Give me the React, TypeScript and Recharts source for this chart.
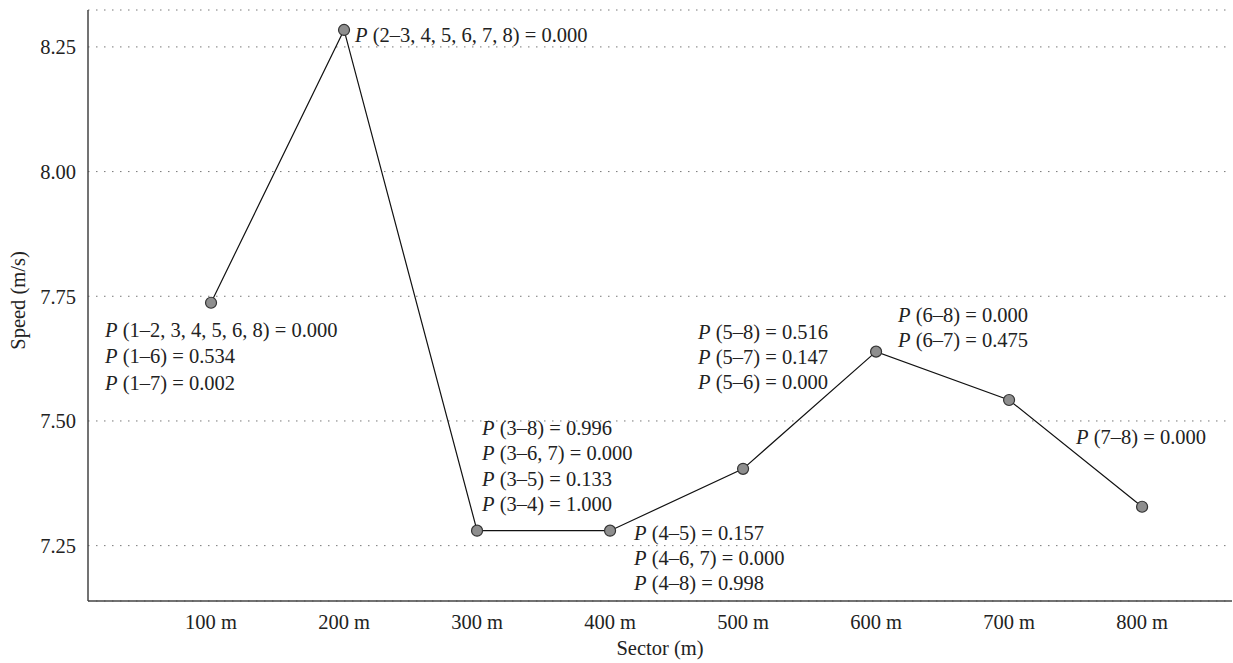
import { CartesianGrid, LabelList, Line, LineChart, XAxis, YAxis } from "recharts";

const sectors = [100, 200, 300, 400, 500, 600, 700, 800];
const speeds = [7.737, 8.284, 7.280, 7.280, 7.404, 7.639, 7.542, 7.328];
const speedTicks = [7.25, 7.5, 7.75, 8.0, 8.25];

const pValues: string[][] = [
  ["(1–2, 3, 4, 5, 6, 8) = 0.000", "(1–6) = 0.534", "(1–7) = 0.002"],
  ["(2–3, 4, 5, 6, 7, 8) = 0.000"],
  ["(3–8) = 0.996", "(3–6, 7) = 0.000", "(3–5) = 0.133", "(3–4) = 1.000"],
  ["(4–5) = 0.157", "(4–6, 7) = 0.000", "(4–8) = 0.998"],
  ["(5–8) = 0.516", "(5–7) = 0.147", "(5–6) = 0.000"],
  ["(6–8) = 0.000", "(6–7) = 0.475"],
  ["(7–8) = 0.000"],
  [],
];

// where each block of p values sits relative to its point
const labelPlacement = [
  { dx: -106, dy: 27, gap: 26.5 },
  { dx: 11, dy: 5, gap: 25 },
  { dx: 5, dy: -103, gap: 25.5 },
  { dx: 24, dy: 2, gap: 25 },
  { dx: -45, dy: -137, gap: 25 },
  { dx: 22, dy: -37, gap: 25 },
  { dx: 67, dy: 37, gap: 25 },
  { dx: 0, dy: 0, gap: 25 },
];

const data = sectors.map((sector, i) => ({ sector, speed: speeds[i] }));

const font = "'Liberation Serif', 'Times New Roman', serif";
const fs = 20.5;

const PLabel = (props: any) => {
  const { x, y, index } = props;
  const lines = pValues[index] || [];
  const place = labelPlacement[index];
  return (
    <g>
      { lines.map((txt, k) => (
        <text
          key={ k }
          x={ x + place.dx }
          y={ y + place.dy + k * place.gap }
          dominantBaseline="central"
          fontFamily={ font }
          fontSize={ fs }
          fill="#222"
        >
          <tspan fontStyle="italic">P</tspan> { txt }
        </text>
      )) }
    </g>
  );
};

export default function App() {
  return (
    <div style={ { position: "absolute", left: 0, top: 0 } }>
      <LineChart
        width={ 1233 }
        height={ 663 }
        data={ data }
        margin={ { top: 10, right: 1, left: 0, bottom: 0 } }
        style={ { fontFamily: font } }
      >
        <CartesianGrid vertical={ false } stroke="#777" strokeDasharray="1.5 6.5"/>
        <XAxis
          dataKey="sector"
          type="number"
          domain={ [7.5, 867.6] }
          ticks={ sectors }
          allowDataOverflow
          tickFormatter={ (v: number) => `${ v } m` }
          tickLine={ false }
          tickSize={ 0 }
          tickMargin={ 13 }
          height={ 62 }
          axisLine={ { stroke: "#444", strokeWidth: 1.5 } }
          tick={ { fontSize: fs, fill: "#222", fontFamily: font } }
          label={ { value: "Sector (m)", position: "insideBottom", offset: 8, fontSize: fs, fill: "#222", fontFamily: font } }
        />
        <YAxis
          domain={ [7.139, 8.324] }
          ticks={ speedTicks }
          allowDataOverflow
          tickFormatter={ (v: number) => v.toFixed(2) }
          tickLine={ false }
          tickSize={ 0 }
          tickMargin={ 12 }
          width={ 88 }
          axisLine={ { stroke: "#444", strokeWidth: 1.5 } }
          tick={ { fontSize: fs, fill: "#222", fontFamily: font } }
          label={ {
            value: "Speed (m/s)",
            angle: -90,
            position: "insideLeft",
            offset: 18,
            dy: -5,
            fontSize: fs,
            fill: "#222",
            fontFamily: font,
            style: { textAnchor: "middle" },
          } }
        />
        <Line
          dataKey="speed"
          type="linear"
          stroke="#111"
          strokeWidth={ 1.2 }
          isAnimationActive={ false }
          dot={ { r: 5.5, fill: "#8e8e8e", stroke: "#333", strokeWidth: 1.2 } }
          activeDot={ false }
        >
          <LabelList dataKey="speed" content={ PLabel }/>
        </Line>
      </LineChart>
    </div>
  );
}
